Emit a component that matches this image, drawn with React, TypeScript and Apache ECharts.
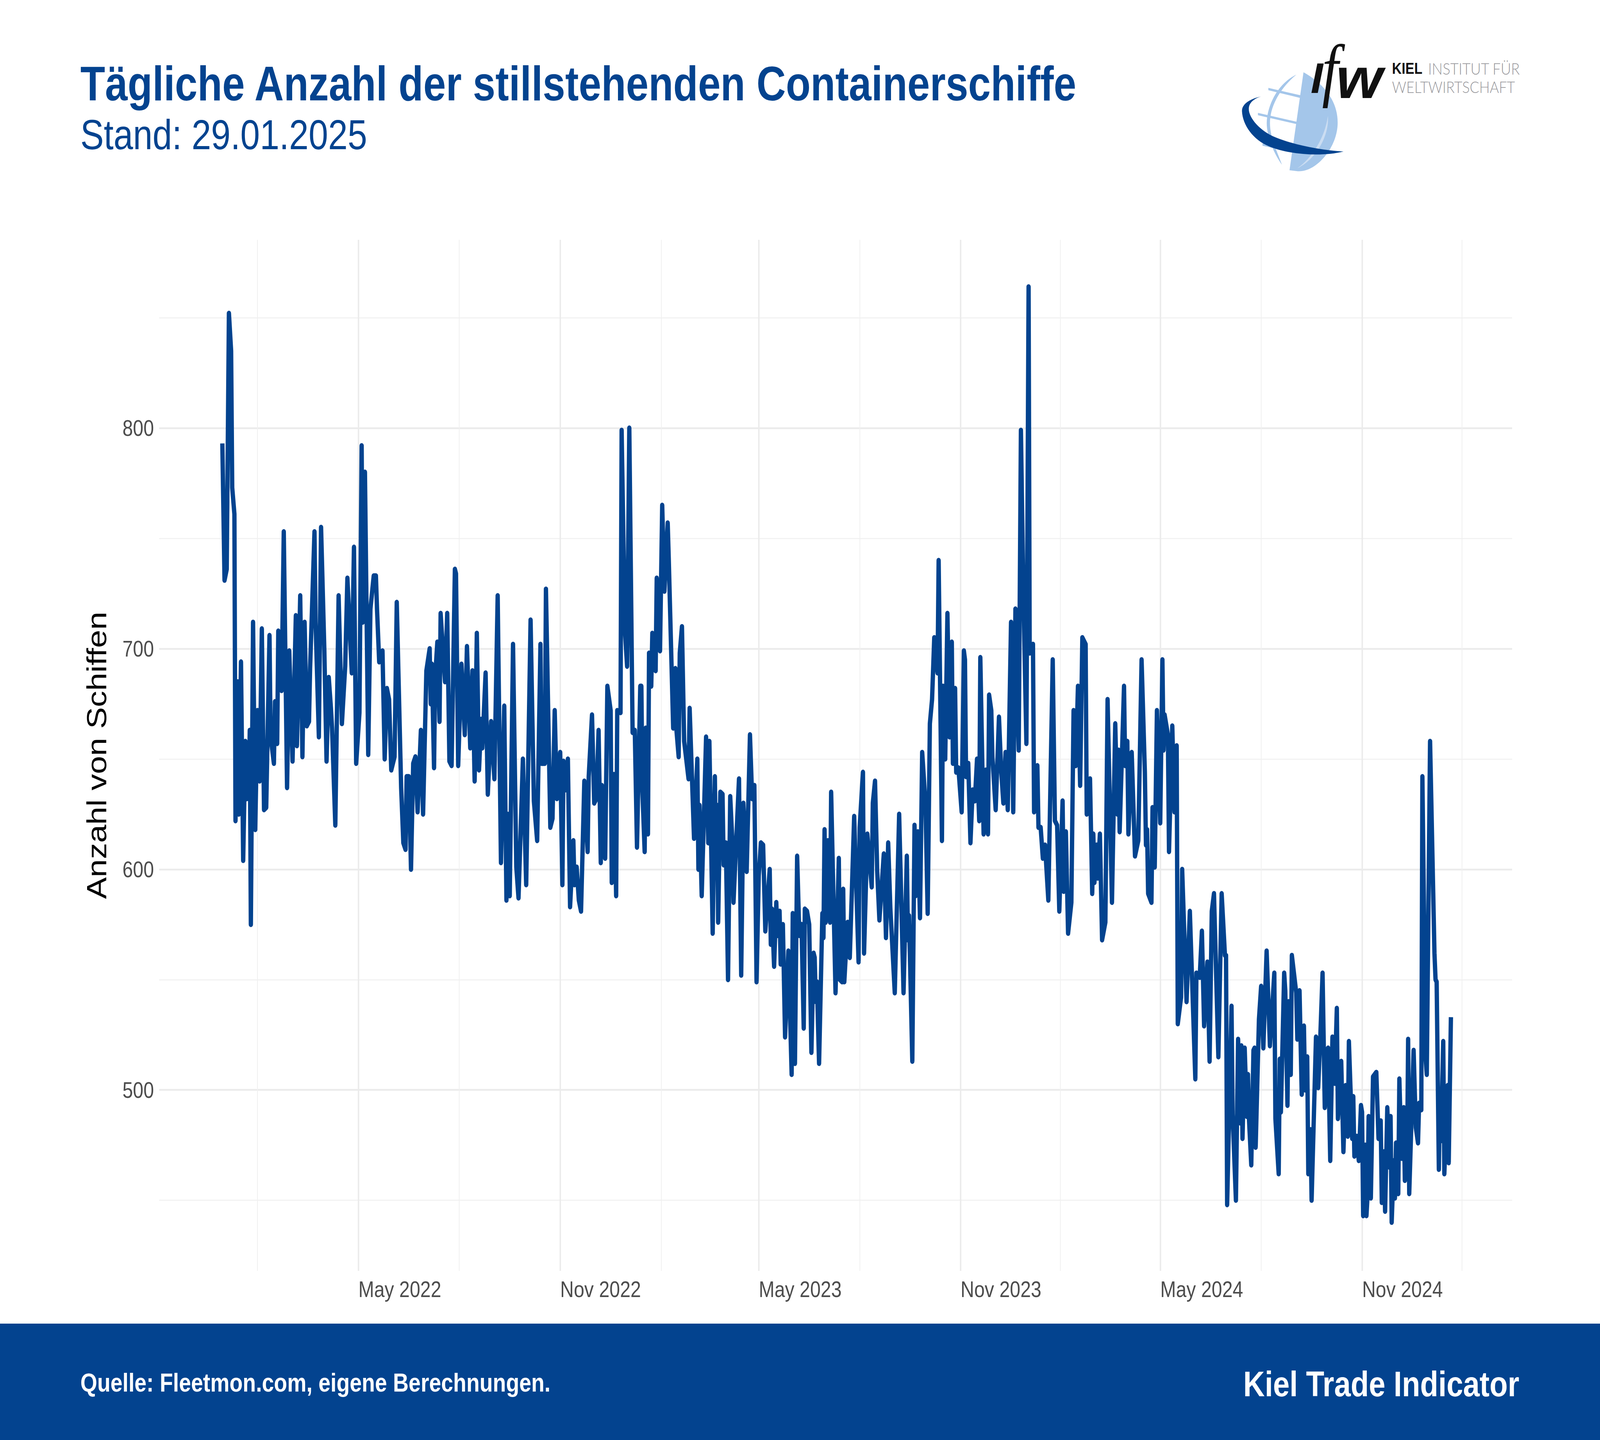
import React, { useEffect, useRef } from "react";
import * as echarts from "echarts";

const W = 4916;
const H = 3687;
const BLUE = "#03438F";
const SANS = '"Liberation Sans"';

const titleText = "Tägliche Anzahl der stillstehenden Containerschiffe";
const subtitleText = "Stand: 29.01.2025";
const sourceText = "Quelle: Fleetmon.com, eigene Berechnungen.";
const brandText = "Kiel Trade Indicator";
const yTitle = "Anzahl von Schiffen";

// x positions are days since 1 May 2022
const majorXDays = [0, 184, 365, 549, 731, 915];
const majorXLabels = ["May 2022", "Nov 2022", "May 2023", "Nov 2023", "May 2024", "Nov 2024"];
const minorXDays = [-92, 92, 276, 457, 640, 823, 1006];
const majorY = [500, 600, 700, 800];
const minorY = [450, 550, 650, 750, 850];

// [days since 1 May 2022, ships]: local peaks and troughs read by eye from the picture, not the source's daily data
const observations2022a: number[][] = [
  [-124,793],[-122,731],[-120,736],[-118,852],[-116,835],[-115,773],[-113,761],[-112,622],[-110,685],[-109,625],[-107,694],[-105,604],[-103,658],[-102,632],[-101,653],[-100,632],[-99,663],[-98,575],[-96,712],[-94,618],[-92,672],[-91,671],[-90,640],[-88,709],[-86,627],[-84,628],[-81,706],[-80,660],[-77,648],[-76,676],[-74,657],[-73,708],[-70,681],[-68,753],[-65,637],[-63,699],[-60,649],[-57,715],[-56,656],[-53,724],[-51,651],[-49,712],[-47,665],[-45,667],[-44,691],[-40,753],[-39,712],[-36,660],[-34,755],[-31,699],[-29,649],[-27,687],[-25,673],[-24,664],[-21,620],[-18,724],[-15,666],[-12,692],[-10,732],[-6,689],[-4,746],[-2,648],[1,671],[3,792],[4,712],[6,780],[9,652],[11,718],[14,733],[16,733],[17,718],[19,694],[22,699],[24,650],[26,682],[28,677],[30,645],[33,651],[35,721],[39,637],[41,612],[43,609],[44,642],[46,642],[48,600],[50,648],[52,651],[54,626],[57,663],[59,625],[62,690],[65,700],[66,675],[67,693],[69,646],[70,687],[72,703],[74,667],[75,716],[77,700],[79,685],[81,716],[83,649],[85,647],[88,736],[89,734],[91,647],[94,693],[97,661],[99,701],[102,655],[104,690],[106,640],[108,707],[110,645],[112,668],[113,655],[116,689],[118,634],[121,667],[124,641],[127,724],[130,603],[133,674],[135,586],[136,625],[138,588],[141,702],[144,601],[146,587],
];
const observations2022b: number[][] = [
  [150,650],[153,593],[157,713],[160,631],[163,613],[166,702],[167,648],[170,648],[171,727],[175,619],[177,623],[179,672],[181,632],[184,653],[186,593],[187,649],[189,636],[191,650],[193,583],[196,613],[197,593],[199,601],[201,586],[203,581],[206,640],[209,608],[210,642],[213,670],[215,630],[217,632],[219,663],[221,603],[222,638],[225,605],[227,683],[230,672],[231,594],[233,643],[235,588],[236,672],[239,671],[240,799],[243,708],[245,692],[247,800],[250,662],[252,663],[254,610],[257,683],[258,683],[259,635],[261,608],[262,664],[264,616],[265,698],[267,683],[268,707],[271,690],[272,732],[275,699],[277,765],[279,726],[282,757],[283,740],[287,664],[289,691],[290,663],[292,651],[293,698],[295,710],[297,658],[301,641],[302,673],[306,614],[309,650],[310,600],[311,629],[313,588],
];
const observations2023a: number[][] = [
  [317,660],[319,612],[320,658],[323,571],[325,642],[326,600],[327,629],[328,576],[330,635],[332,634],[333,602],[335,612],[337,550],[339,633],[341,612],[342,585],[347,641],[349,552],[351,630],[354,599],[357,661],[359,632],[361,638],[363,549],[365,597],[367,612],[369,611],[371,572],[375,600],[376,566],[377,582],[379,556],[381,585],[382,570],[384,581],[385,557],[387,575],[389,524],[392,563],[395,507],[396,580],[398,512],[400,606],[402,570],[404,575],[406,528],[407,582],[409,581],[411,575],[413,517],[415,562],[416,560],[417,540],[418,549],[420,512],[423,580],[424,569],[425,618],[426,576],[428,613],[430,576],[431,635],[435,544],[438,605],[439,550],[441,549],[442,591],[443,549],[446,576],[448,560],[452,624],[456,558],[457,619],
];
const observations2023b: number[][] = [
  [460,644],[461,562],[464,616],[468,592],[469,630],[471,640],[473,599],[475,577],[479,607],[481,569],[483,612],[485,582],[489,544],[493,625],[497,544],[500,606],[501,568],[502,579],[505,513],[507,620],[508,588],[510,617],[512,578],[514,653],[517,630],[519,580],[521,666],[523,677],[525,705],[528,689],[529,740],[532,613],[533,683],[535,650],[537,716],[539,660],[541,703],[542,648],[544,682],[545,644],[547,646],[550,626],[552,699],[553,695],[554,642],[556,648],[558,612],[560,636],[562,631],[564,650],[566,622],[567,696],[570,616],[572,645],[574,616],[575,679],[577,672],[578,651],[581,627],[584,669],[586,645],[588,630],[590,653],[592,627],[595,712],[597,626],[599,718],[602,654],[604,799],[606,732],[609,657],[611,864],[612,698],[615,702],[616,626],[619,647],[620,619],[622,619],[624,605],[626,611],[629,586],[633,695],[635,622],[637,620],[639,581],[642,631],[643,590],[645,617],[647,571],[650,585],[652,672],[654,647],[656,683],[658,638],[660,705],[663,702],[664,625],[667,641],[669,589],[670,616],[671,594],[673,611],[674,596],[676,616],[678,568],[681,576],[683,677],[687,585],[690,666],[692,625],[693,654],[694,617],[698,683],[699,647],[701,658],[702,616],[705,653],[708,606],[711,613],[714,695],[717,644],[718,611],[719,618],[720,589],[723,585],[724,628],[726,601],[728,672],[731,621],[733,695],[734,654],[735,670],[738,661],[739,608],
];
const observations2024: number[][] = [
  [742,665],[744,626],[746,656],[747,530],[750,542],[751,600],[755,540],[758,581],[763,505],[764,553],[767,551],[769,572],[771,529],[774,558],[776,513],[778,581],[780,589],[784,515],[787,589],[790,561],[791,561],[792,448],[796,538],[797,489],[800,450],[802,523],[804,485],[805,520],[806,478],[808,519],[810,488],[811,507],[812,486],[814,466],[816,518],[817,519],[818,474],[821,532],[823,547],[825,519],[828,563],[831,520],[835,553],[836,487],[839,462],[840,514],[841,490],[844,553],[845,545],[847,493],[848,540],[850,507],[851,561],[855,544],[856,523],[858,545],[860,498],[862,529],[863,500],[865,515],[866,462],[868,482],[869,450],[873,524],[875,501],[877,525],[879,553],[881,492],[884,519],[886,468],[888,524],[890,503],[892,537],[893,487],[896,513],[898,472],[900,502],[902,479],[903,522],[906,478],[907,497],[908,470],[910,479],[912,468],[914,493],[915,490],[916,443],[918,475],[919,443],[920,452],[921,488],[923,451],[925,506],[928,508],[930,478],[932,486],[933,449],[935,472],[936,445],[938,492],[940,465],[941,488],[942,440],[944,468],[945,451],[946,476],[948,453],[949,505],[951,469],[953,492],[954,459],[956,466],[957,523],[958,453],[962,518],[964,483],[966,476],[967,494],[969,491],[970,642],[973,514],[974,507],[977,658],[981,562],[982,550],[983,549],[985,464],[986,498],[987,477],[989,522],[990,462],[993,502],[994,467],[996,533],
];

const observations = [...observations2022a, ...observations2022b, ...observations2023a, ...observations2023b, ...observations2024];

const globeD = "M4005 185 C4070 215 4110 260 4110 314 C4110 380 4040 445 3983 438 L3962 436 Z";
const arcLeftD = "M3983 191 C3925 215 3893 270 3892 315 C3892 350 3915 395 3939 422 C3920 380 3902 350 3902 315 C3902 270 3935 225 3983 191 Z";
const band1D = "M3897 225 L3996 244 L3996 251 L3897 231 Z";
const band2D = "M3865 289 L4099 334 L4099 340 L3865 295 Z";
const band3D = "M3879 367 L4057 401 L4057 407 L3879 373 Z";
const arcRightD = "M4080 297 C4085 350 4040 410 3986 431 C4030 405 4070 355 4080 297 Z";
const swooshD = "M3874 247 C3832 255 3815 270 3816 285 C3818 320 3850 358 3900 375 C3960 396 4060 402 4128 388 C4060 385 3980 372 3920 352 C3870 335 3835 300 3837 277 C3838 262 3855 252 3874 247 Z";

const shapes: Record<string, string> = {
  ifwGlobe: globeD, ifwArcLeft: arcLeftD, ifwBand1: band1D, ifwBand2: band2D,
  ifwBand3: band3D, ifwArcRight: arcRightD, ifwSwoosh: swooshD,
};
Object.keys(shapes).forEach((k) => {
  echarts.graphic.registerShape(k, echarts.graphic.extendPath(shapes[k] as any, {}) as any);
});

const txt = (text: string, x: number, y: number, font: string, fill: string, textAlign = "left", extra: any = {}) => ({
  type: "text", x, y, silent: true, ...extra,
  style: { text, x: 0, y: 0, font, fill, textAlign, textVerticalAlign: "middle" },
});

export default function App() {
  const ref = useRef<HTMLDivElement>(null);
  // Measured window is 4096 px wide although 4916 was requested. The chart stays laid out at
  // 4916x3687 and is squeezed horizontally to fit, so text and strokes are narrower by this factor.
  const fitX = Math.min(1, window.innerWidth / W);
  useEffect(() => {
    document.body.style.margin = "0";
    const chart = echarts.init(ref.current!, undefined, { renderer: "svg", width: W, height: H });
    const xMin = -181.6;
    const xMax = 1051.8;
    const yMin = 418;
    const yMax = 885.3;
    chart.setOption({
      animation: false,
      backgroundColor: "#FFFFFF",
      grid: { left: 489, top: 614, width: 4157, height: 2640, containLabel: false },
      xAxis: [
        {
          type: "value", min: xMin, max: xMax, position: "bottom",
          axisLine: { show: false },
          axisTick: { show: false, customValues: majorXDays },
          splitLine: { show: true, lineStyle: { color: "#EBEBEB", width: 4.5 } },
          axisLabel: {
            show: true, customValues: majorXDays, margin: 18, align: "left",
            color: "#4D4D4D", fontFamily: SANS, fontSize: 58, hideOverlap: false,
            formatter: (v: number) => majorXLabels[majorXDays.indexOf(v)] ?? "",
          },
        },
        {
          type: "value", min: xMin, max: xMax, position: "bottom",
          axisLine: { show: false },
          axisTick: { show: false, customValues: minorXDays },
          axisLabel: { show: false },
          splitLine: { show: true, lineStyle: { color: "#F0F0F0", width: 2.4 } },
        },
      ],
      yAxis: [
        {
          type: "value", min: yMin, max: yMax, position: "left",
          name: yTitle, nameLocation: "middle", nameRotate: 90, nameGap: 150,
          nameTextStyle: { color: "#000000", fontFamily: SANS, fontSize: 83.4 },
          axisLine: { show: false },
          axisTick: { show: false, customValues: majorY },
          splitLine: { show: true, lineStyle: { color: "#EBEBEB", width: 4.5 } },
          axisLabel: {
            show: true, customValues: majorY, margin: 16, color: "#4D4D4D",
            fontFamily: SANS, fontSize: 58,
          },
        },
        {
          type: "value", min: yMin, max: yMax, position: "left",
          axisLine: { show: false },
          axisTick: { show: false, customValues: minorY },
          axisLabel: { show: false },
          splitLine: { show: true, lineStyle: { color: "#F0F0F0", width: 2.4 } },
        },
      ],
      series: [
        {
          type: "line", xAxisIndex: 0, yAxisIndex: 0, symbol: "none", showSymbol: false,
          smooth: false, z: 5,
          lineStyle: { color: BLUE, width: 13.3, join: "round", cap: "butt" },
          data: observations,
        },
      ],
      graphic: [
        { type: "rect", silent: true, shape: { x: 0, y: 3389, width: W, height: 298 }, style: { fill: BLUE } },
        txt(titleText, 247, 214, `bold 124.5px ${SANS}`, BLUE),
        txt(subtitleText, 247, 345, `107.8px ${SANS}`, BLUE),
        txt(sourceText, 247, 3540, `bold 66.5px ${SANS}`, "#FFFFFF"),
        txt(brandText, 4668, 3543, `bold 91.4px ${SANS}`, "#FFFFFF", "right"),
        { type: "ifwGlobe", silent: true, style: { fill: "#A4C6EA" } },
        { type: "ifwArcLeft", silent: true, style: { fill: "#A4C6EA" } },
        { type: "ifwBand1", silent: true, style: { fill: "#A4C6EA" } },
        { type: "ifwBand2", silent: true, style: { fill: "#A4C6EA" } },
        { type: "ifwBand3", silent: true, style: { fill: "#A4C6EA" } },
        { type: "ifwArcRight", silent: true, style: { fill: "#CBDDF2" } },
        { type: "ifwSwoosh", silent: true, style: { fill: BLUE } },
        txt("I", 4027, 200, `bold italic 109px ${SANS}`, "#111111", "left", { scaleX: 1.25 }),
        txt("f", 4062, 178, 'italic 180px "Liberation Serif"', "#111111"),
        txt("w", 4105, 200, `bold italic 146px ${SANS}`, "#111111", "left", { scaleX: 1.26 }),
        txt("KIEL", 4277, 175, `bold 41px ${SANS}`, "#111111"),
        txt("INSTITUT FÜR", 4388, 175, "300 41px Lato", "#98989C", "left", { scaleX: 1.07 }),
        txt("WELTWIRTSCHAFT", 4277, 222, "300 41px Lato", "#98989C", "left", { scaleX: 1.05 }),
      ],
    });
    return () => chart.dispose();
  }, []);
  return (
    <div
      ref={ref}
      style={{
        position: "absolute", left: 0, top: 0, width: W, height: H,
        transform: `scaleX(${fitX})`, transformOrigin: "0 0",
      }}
    />
  );
}
